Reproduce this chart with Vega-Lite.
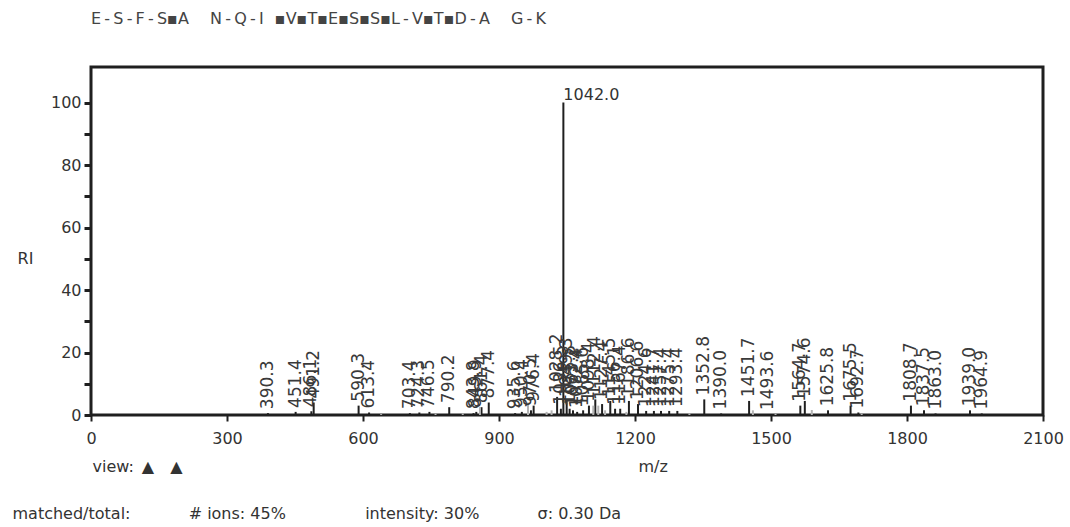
{
  "$schema": "https://vega.github.io/schema/vega-lite/v6.json",
  "width": 952,
  "height": 348,
  "autosize": {"type": "none"},
  "padding": {"left": 91, "top": 67, "right": 27, "bottom": 112},
  "background": "white",
  "config": {"view": {"stroke": "#1f1f1f", "strokeWidth": 3}, "font": "DejaVu Sans"},
  "title": {
    "text": "E\u2009-\u2009S\u2009-\u2009F\u2009-\u2009S▪A\u2003\u00a0N\u2009-\u2009Q\u2009-\u2009I\u2002\u2009▪V▪T▪E▪S▪S▪L\u2009-\u2009V▪T▪D\u2009-\u2009A\u2003\u00a0G\u2009-\u2009K",
    "orient": "top",
    "anchor": "start",
    "frame": "group",
    "offset": 40,
    "fontSize": 16,
    "fontWeight": "normal",
    "color": "#444444",
    "font": "DejaVu Sans"
  },
  "data": {
    "values": [
      {"mz": 390.3, "ri": 0.6, "label": "390.3", "kind": "matched"},
      {"mz": 451.4, "ri": 1.0, "label": "451.4", "kind": "matched"},
      {"mz": 486.1, "ri": 1.2, "label": "486.1", "kind": "matched"},
      {"mz": 491.2, "ri": 4.0, "label": "491.2", "kind": "matched"},
      {"mz": 590.3, "ri": 3.0, "label": "590.3", "kind": "matched"},
      {"mz": 613.4, "ri": 0.8, "label": "613.4", "kind": "matched"},
      {"mz": 703.4, "ri": 0.6, "label": "703.4", "kind": "matched"},
      {"mz": 724.3, "ri": 0.8, "label": "724.3", "kind": "matched"},
      {"mz": 746.5, "ri": 1.0, "label": "746.5", "kind": "matched"},
      {"mz": 790.2, "ri": 2.5, "label": "790.2", "kind": "matched"},
      {"mz": 843.8, "ri": 0.6, "label": "843.8", "kind": "matched"},
      {"mz": 849.9, "ri": 1.0, "label": "849.9", "kind": "matched"},
      {"mz": 861.4, "ri": 2.5, "label": "861.4", "kind": "matched"},
      {"mz": 877.4, "ri": 4.0, "label": "877.4", "kind": "matched"},
      {"mz": 935.6, "ri": 0.6, "label": "935.6", "kind": "matched"},
      {"mz": 950.4, "ri": 1.0, "label": "950.4", "kind": "matched"},
      {"mz": 970.5, "ri": 1.5, "label": "970.5", "kind": "matched"},
      {"mz": 976.4, "ri": 3.0, "label": "976.4", "kind": "matched"},
      {"mz": 1028.2, "ri": 5.8, "label": "1028.2", "kind": "matched"},
      {"mz": 1036.5, "ri": 2.0, "label": "1036.5", "kind": "matched"},
      {"mz": 1042.0, "ri": 100, "label": "1042.0", "kind": "matched"},
      {"mz": 1049.3, "ri": 4.5, "label": "1049.3", "kind": "matched"},
      {"mz": 1055.8, "ri": 2.0, "label": "1055.8", "kind": "matched"},
      {"mz": 1063.2, "ri": 1.5, "label": "1063.2", "kind": "matched"},
      {"mz": 1072.4, "ri": 1.0, "label": "1072.4", "kind": "matched"},
      {"mz": 1085.6, "ri": 1.5, "label": "1085.6", "kind": "matched"},
      {"mz": 1098.4, "ri": 3.0, "label": "1098.4", "kind": "matched"},
      {"mz": 1112.4, "ri": 5.0, "label": "1112.4", "kind": "matched"},
      {"mz": 1127.4, "ri": 3.5, "label": "1127.4", "kind": "matched"},
      {"mz": 1145.5, "ri": 4.5, "label": "1145.5", "kind": "matched"},
      {"mz": 1156.1, "ri": 2.0, "label": "1156.1", "kind": "matched"},
      {"mz": 1167.4, "ri": 2.0, "label": "1167.4", "kind": "matched"},
      {"mz": 1186.6, "ri": 4.5, "label": "1186.6", "kind": "matched"},
      {"mz": 1206.6, "ri": 3.5, "label": "1206.6", "kind": "matched"},
      {"mz": 1224.6, "ri": 1.3, "label": "1224.6", "kind": "matched"},
      {"mz": 1241.7, "ri": 1.3, "label": "1241.7", "kind": "matched"},
      {"mz": 1257.4, "ri": 1.3, "label": "1257.4", "kind": "matched"},
      {"mz": 1275.4, "ri": 1.3, "label": "1275.4", "kind": "matched"},
      {"mz": 1293.4, "ri": 1.3, "label": "1293.4", "kind": "matched"},
      {"mz": 1352.8, "ri": 5.0, "label": "1352.8", "kind": "matched"},
      {"mz": 1390.0, "ri": 0.5, "label": "1390.0", "kind": "matched"},
      {"mz": 1451.7, "ri": 4.5, "label": "1451.7", "kind": "matched"},
      {"mz": 1493.6, "ri": 0.3, "label": "1493.6", "kind": "matched"},
      {"mz": 1564.7, "ri": 3.0, "label": "1564.7", "kind": "matched"},
      {"mz": 1574.6, "ri": 4.5, "label": "1574.6", "kind": "matched"},
      {"mz": 1625.8, "ri": 1.5, "label": "1625.8", "kind": "matched"},
      {"mz": 1675.5, "ri": 3.0, "label": "1675.5", "kind": "matched"},
      {"mz": 1692.7, "ri": 0.8, "label": "1692.7", "kind": "matched"},
      {"mz": 1808.7, "ri": 3.0, "label": "1808.7", "kind": "matched"},
      {"mz": 1837.5, "ri": 1.5, "label": "1837.5", "kind": "matched"},
      {"mz": 1863.0, "ri": 0.5, "label": "1863.0", "kind": "matched"},
      {"mz": 1939.0, "ri": 1.5, "label": "1939.0", "kind": "matched"},
      {"mz": 1964.9, "ri": 0.5, "label": "1964.9", "kind": "matched"},
      {"mz": 640.0, "ri": 0.3, "label": "", "kind": "other"},
      {"mz": 760.0, "ri": 0.4, "label": "", "kind": "other"},
      {"mz": 820.0, "ri": 0.5, "label": "", "kind": "other"},
      {"mz": 858.0, "ri": 2.5, "label": "", "kind": "other"},
      {"mz": 964.0, "ri": 4.0, "label": "", "kind": "other"},
      {"mz": 1005.0, "ri": 1.0, "label": "", "kind": "other"},
      {"mz": 1016.0, "ri": 1.5, "label": "", "kind": "other"},
      {"mz": 1108.0, "ri": 3.0, "label": "", "kind": "other"},
      {"mz": 1119.0, "ri": 3.0, "label": "", "kind": "other"},
      {"mz": 1134.0, "ri": 1.5, "label": "", "kind": "other"},
      {"mz": 1181.0, "ri": 1.0, "label": "", "kind": "other"},
      {"mz": 1320.0, "ri": 0.5, "label": "", "kind": "other"},
      {"mz": 1460.0, "ri": 1.5, "label": "", "kind": "other"},
      {"mz": 1510.0, "ri": 0.4, "label": "", "kind": "other"},
      {"mz": 1590.0, "ri": 1.6, "label": "", "kind": "other"},
      {"mz": 1700.0, "ri": 0.4, "label": "", "kind": "other"}
    ]
  },
  "encoding": {
    "x": {
      "field": "mz",
      "type": "quantitative",
      "scale": {"domain": [0, 2100], "nice": false, "zero": false},
      "axis": {
        "values": [0, 300, 600, 900, 1200, 1500, 1800, 2100],
        "format": "d",
        "grid": false,
        "domain": false,
        "tickSize": 6,
        "tickWidth": 2,
        "tickColor": "#1f1f1f",
        "labelFontSize": 16,
        "labelColor": "#333333",
        "labelPadding": 9,
        "labelFlush": false,
        "labelOverlap": false,
        "title": [
          "\u200b\u2003\u2003\u2003\u2003\u2003view:\u2002▲\u2003▲\u2003\u2003\u2003\u2003\u2003\u2003\u2003\u2003\u2003\u2003\u2003\u2003\u2003\u2003\u2003\u2003\u2003\u2003\u2003\u2003\u2003\u2003\u2003\u2003\u2003\u2003\u2003\u2003\u2002m/z",
          "matched/total:\u2003\u2003\u2003\u00a0\u00a0# ions: 45%\u2003\u2003\u2003\u2003\u00a0\u00a0\u00a0intensity: 30%\u2003\u2003\u2003\u00a0\u00a0σ: 0.30 Da"
        ],
        "titleX": -79,
        "titleY": 43,
        "titleAlign": "left",
        "titleBaseline": "top",
        "titleFontSize": 16,
        "titleFontWeight": "normal",
        "titleColor": "#333333",
        "titleLineHeight": 47
      }
    },
    "y": {
      "field": "ri",
      "type": "quantitative",
      "scale": {"domain": [0, 111.4], "nice": false},
      "axis": {
        "values": [0, 10, 20, 30, 40, 50, 60, 70, 80, 90, 100],
        "labelExpr": "datum.value % 20 === 0 ? datum.label : ''",
        "grid": false,
        "domain": false,
        "tickSize": 7,
        "tickWidth": 3,
        "tickColor": "#1f1f1f",
        "labelFontSize": 16,
        "labelColor": "#333333",
        "labelPadding": 3,
        "title": "RI",
        "titleAngle": 0,
        "titleX": -66,
        "titleY": 191,
        "titleAlign": "center",
        "titleBaseline": "middle",
        "titleFontSize": 16,
        "titleFontWeight": "normal",
        "titleColor": "#333333"
      }
    }
  },
  "layer": [
    {
      "mark": {"type": "rule", "strokeWidth": 2},
      "encoding": {
        "y2": {"datum": 0},
        "color": {
          "field": "kind",
          "type": "nominal",
          "scale": {"domain": ["matched", "other"], "range": ["#1f1f1f", "#b3b3b3"]},
          "legend": null
        }
      }
    },
    {
      "transform": [{"filter": "datum.label !== '' && datum.ri < 50"}],
      "mark": {"type": "text", "angle": 270, "align": "left", "baseline": "middle", "dx": 4, "fontSize": 17, "color": "#3a3a3a", "font": "DejaVu Sans"},
      "encoding": {"text": {"field": "label"}}
    },
    {
      "transform": [{"filter": "datum.ri >= 50"}],
      "mark": {"type": "text", "align": "left", "baseline": "alphabetic", "dy": -3, "dx": 0, "fontSize": 16, "color": "#333333", "font": "DejaVu Sans"},
      "encoding": {"text": {"field": "label"}}
    }
  ]
}
